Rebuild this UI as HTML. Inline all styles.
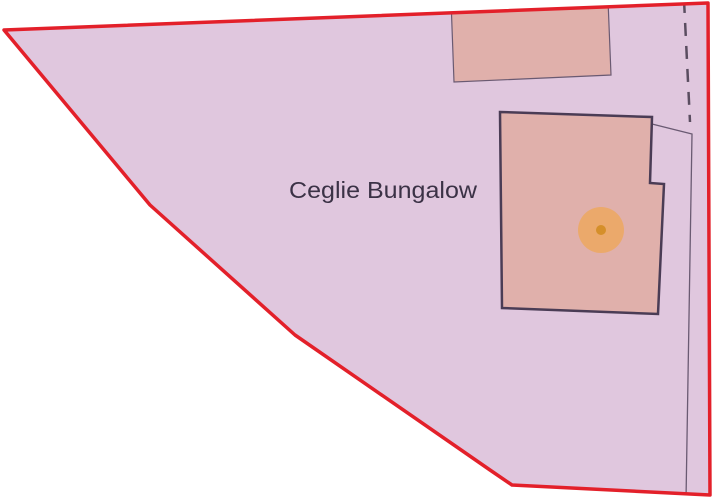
<!DOCTYPE html>
<html><head><style>html,body{margin:0;padding:0;background:#fff;width:714px;height:500px;overflow:hidden}</style></head>
<body>
<svg width="714" height="500" viewBox="0 0 714 500" xmlns="http://www.w3.org/2000/svg">
<defs><clipPath id="c"><polygon points="4,30 150,205 295,335 490,470 512,485 710,495 708,3"/></clipPath></defs>
<polygon points="4,30 150,205 295,335 490,470 512,485 710,495 708,3" fill="#e0c7de"/>
<g clip-path="url(#c)">
<polygon points="451,0 608,0 611,75 454,82" fill="#e0b0ab" stroke="#6a5a72" stroke-width="1.2"/>
<polyline points="652,124 692,134 686,500" fill="none" stroke="#6a5a72" stroke-width="1.3"/>
<line x1="684" y1="0" x2="690" y2="122" stroke="#5a4d60" stroke-width="2.5" stroke-dasharray="13,10"/>
</g>
<polygon points="500,112 652,117 650,183 664,184 658,314 502,308" fill="#e0b0ab" stroke="#4a3c55" stroke-width="2.5"/>
<circle cx="601" cy="230" r="23" fill="#eba96b"/>
<circle cx="601" cy="230" r="5" fill="#d58f2a"/>
<text x="289" y="198" textLength="188" lengthAdjust="spacingAndGlyphs" font-family="Liberation Sans, sans-serif" font-size="23" fill="#3b3246">Ceglie Bungalow</text>
<polygon points="4,30 150,205 295,335 490,470 512,485 710,495 708,3" fill="none" stroke="#e3202a" stroke-width="3.5" stroke-linejoin="round"/>
</svg>
</body></html>
